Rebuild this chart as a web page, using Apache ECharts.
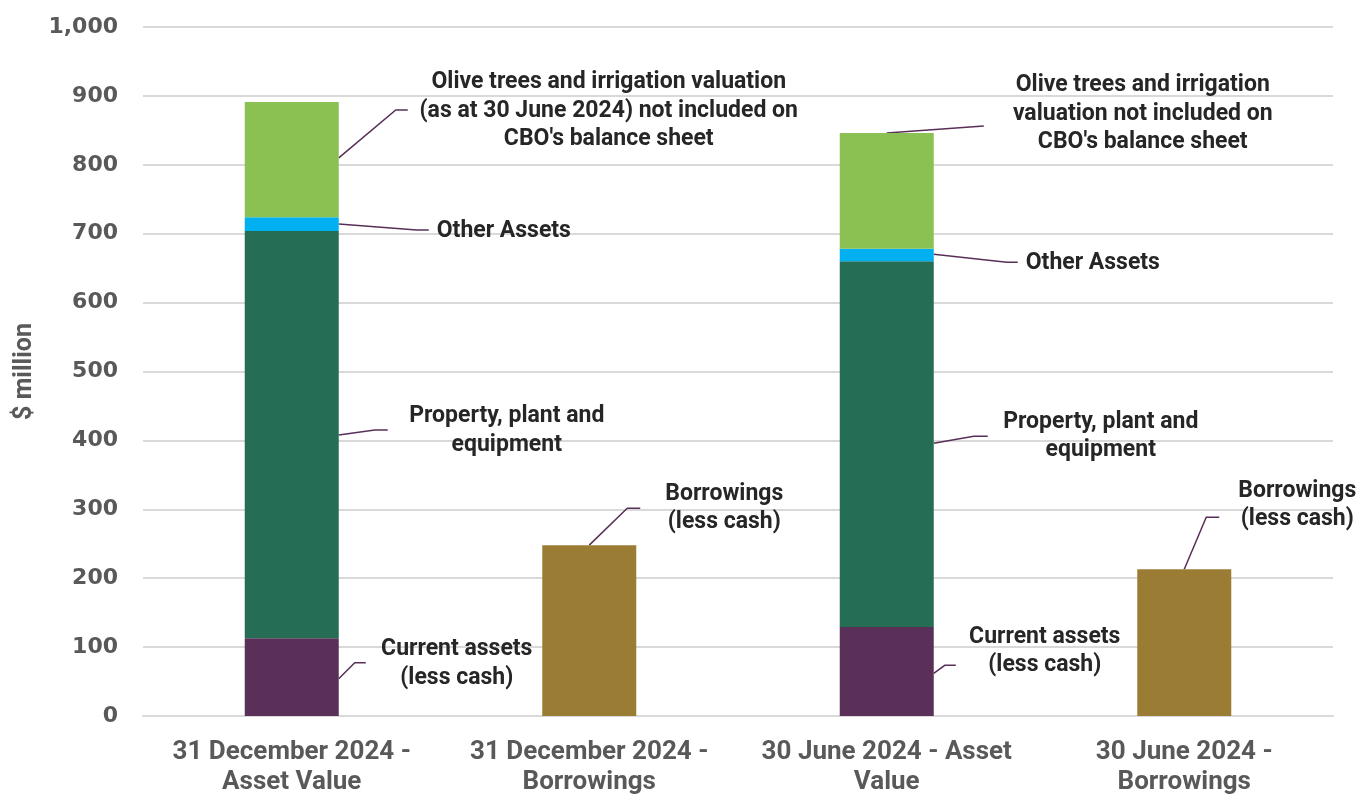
<!DOCTYPE html>
<html>
<head>
<meta charset="utf-8">
<script src="https://cdn.jsdelivr.net/npm/echarts@6/dist/echarts.min.js"></script>
<style>
  html, body { margin: 0; padding: 0; background: #fff; }
  #main { width: 1360px; height: 794px; }
</style>
</head>
<body>
<div id="main"></div>
<script>
// categories and values ($ million)
var categories = ['31 December 2024 -\nAsset Value', '31 December 2024 -\nBorrowings', '30 June 2024 - Asset\nValue', '30 June 2024 -\nBorrowings'];
var currentAssets = [113, '-', 129, '-'];
var ppe = [591, '-', 531, '-'];
var otherAssets = [20, '-', 18, '-'];
var oliveTrees = [167, '-', 168, '-'];
var borrowings = ['-', 248, '-', 213];

// annotation text, anchored on a category and a value
var notes = [
  { cat: 0, val: 810, side: 'right', pts: [[57, -48], [69, -48]], dx: 270, dy: -47, align: 'center',
    text: 'Olive trees and irrigation valuation\n(as at 30 June 2024) not included on\nCBO\'s balance sheet' },
  { cat: 0, val: 714, side: 'right', pts: [[78, 6], [90, 6]], dx: 98, dy: 7, align: 'left', text: 'Other Assets' },
  { cat: 0, val: 408, side: 'right', pts: [[36, -5], [49, -5]], dx: 168, dy: -4, align: 'center', text: 'Property, plant and\nequipment' },
  { cat: 0, val: 54, side: 'right', pts: [[16, -16], [27, -16]], dx: 118, dy: -15, align: 'center', text: 'Current assets\n(less cash)' },
  { cat: 1, val: 248, side: 'top', pts: [[38, -37], [51, -37]], dx: 135, dy: -37, align: 'center', text: 'Borrowings\n(less cash)' },
  { cat: 2, val: 846, side: 'top', pts: [[97, -7]], dx: 256, dy: -19, align: 'center',
    text: 'Olive trees and irrigation\nvaluation not included on\nCBO\'s balance sheet' },
  { cat: 2, val: 670, side: 'right', pts: [[73, 8], [84, 8]], dx: 92, dy: 9, align: 'left', text: 'Other Assets' },
  { cat: 2, val: 396, side: 'right', pts: [[40, -7], [54, -7]], dx: 167, dy: -7, align: 'center', text: 'Property, plant and\nequipment' },
  { cat: 2, val: 62, side: 'right', pts: [[11, -8], [22, -8]], dx: 111, dy: -22, align: 'center', text: 'Current assets\n(less cash)' },
  { cat: 3, val: 213, side: 'top', pts: [[22, -52], [35, -52]], dx: 113, dy: -64, align: 'center', text: 'Borrowings\n(less cash)' }
];

var barW = 94;
var chart = echarts.init(document.getElementById('main'));

function bar(name, data, color) {
  return {
    name: name, type: 'bar', stack: 'total', data: data, barWidth: barW,
    itemStyle: { color: color }, silent: true
  };
}

chart.setOption({
  animation: false,
  grid: { left: 143, right: 27, top: 27, bottom: 78, outerBoundsMode: 'none', containLabel: false },
  xAxis: {
    type: 'category',
    data: categories,
    axisTick: { show: false },
    axisLine: { lineStyle: { color: '#d9d9d9', width: 2 } },
    axisLabel: {
      interval: 0, margin: 21, color: '#595959',
      fontFamily: 'Roboto', fontWeight: 'bold', fontSize: 26, lineHeight: 30
    }
  },
  yAxis: {
    type: 'value', min: 0, max: 1000, interval: 100,
    name: '$ million', nameLocation: 'middle', nameRotate: 90, nameGap: 102,
    nameTextStyle: { color: '#595959', fontFamily: 'Roboto', fontWeight: 'bold', fontSize: 25 },
    axisLine: { show: false },
    axisTick: { show: false },
    splitLine: { lineStyle: { color: '#d9d9d9', width: 2 } },
    axisLabel: {
      margin: 25, color: '#595959', fontFamily: 'DejaVu Sans', fontWeight: 'bold', fontSize: 22,
      formatter: function (v) { return v.toLocaleString('en-US'); }
    }
  },
  series: [
    bar('Current assets (less cash)', currentAssets, '#5a2f58'),
    bar('Property, plant and equipment', ppe, '#256d55'),
    bar('Other Assets', otherAssets, '#00b0f0'),
    bar('Olive trees and irrigation valuation', oliveTrees, '#8bc152'),
    bar('Borrowings (less cash)', borrowings, '#9b7c35')
  ]
});

var els = [];
notes.forEach(function (n) {
  var p = chart.convertToPixel({ gridIndex: 0 }, [n.cat, n.val]);
  var x0 = n.side === 'right' ? p[0] + barW / 2 : p[0];
  var y0 = p[1];
  var line = [[x0, y0]];
  n.pts.forEach(function (d) { line.push([x0 + d[0], y0 + d[1]]); });
  els.push({
    type: 'polyline', silent: true,
    shape: { points: line },
    style: { stroke: '#582f57', lineWidth: 1.5, fill: null }
  });
  els.push({
    type: 'text', silent: true,
    x: x0 + n.dx, y: y0 + n.dy,
    style: {
      text: n.text, fill: '#262626', align: n.align, verticalAlign: 'middle',
      fontFamily: 'Roboto', fontWeight: 'bold', fontSize: 23, lineHeight: 28.5
    }
  });
});
chart.setOption({ graphic: { elements: els } });
</script>
</body>
</html>
